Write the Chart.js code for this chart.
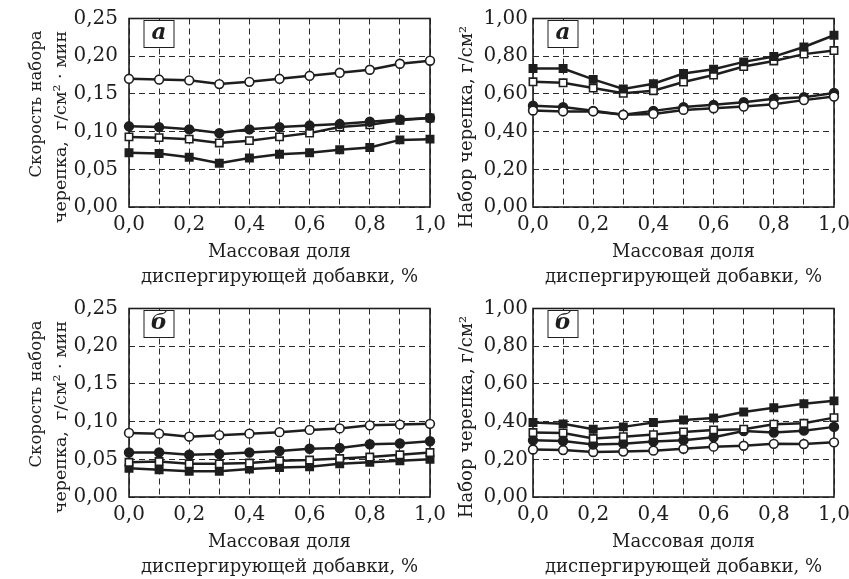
<!DOCTYPE html>
<html>
<head>
<meta charset="utf-8">
<script src="https://cdn.jsdelivr.net/npm/chart.js@4.4.1/dist/chart.umd.min.js"></script>
<style>
  body { margin: 0; background: #fff; width: 849px; height: 579px; position: relative; overflow: hidden; }
  canvas { position: absolute; }
</style>
</head>
<body>
<canvas id="rateA"  width="450" height="289" style="left:0;top:0"></canvas>
<canvas id="massA"  width="409" height="289" style="left:440px;top:0"></canvas>
<canvas id="rateB"  width="450" height="289" style="left:0;top:290px"></canvas>
<canvas id="massB"  width="409" height="289" style="left:440px;top:290px"></canvas>
<script>
// ── Data ──────────────────────────────────────────────────────────────────────
const xShare = [0, 0.1, 0.2, 0.3, 0.4, 0.5, 0.6, 0.7, 0.8, 0.9, 1.0];

// а — скорость набора черепка, г/см²·мин
const rateA_openCircle   = [0.170, 0.169, 0.168, 0.163, 0.166, 0.170, 0.174, 0.178, 0.182, 0.190, 0.194];
const rateA_filledCircle = [0.107, 0.106, 0.103, 0.098, 0.103, 0.106, 0.108, 0.110, 0.113, 0.116, 0.118];
const rateA_openSquare   = [0.093, 0.092, 0.090, 0.085, 0.088, 0.093, 0.098, 0.106, 0.109, 0.115, 0.118];
const rateA_filledSquare = [0.072, 0.071, 0.066, 0.058, 0.065, 0.070, 0.072, 0.076, 0.079, 0.089, 0.090];

// а — набор черепка, г/см²
const massA_filledSquare = [0.735, 0.735, 0.677, 0.626, 0.654, 0.708, 0.731, 0.770, 0.798, 0.849, 0.911];
const massA_openSquare   = [0.664, 0.659, 0.631, 0.603, 0.617, 0.663, 0.700, 0.745, 0.775, 0.811, 0.830];
const massA_filledCircle = [0.537, 0.530, 0.510, 0.489, 0.510, 0.530, 0.542, 0.556, 0.574, 0.582, 0.605];
const massA_openCircle   = [0.512, 0.507, 0.507, 0.489, 0.494, 0.515, 0.524, 0.533, 0.545, 0.567, 0.586];

// б — скорость набора черепка
const rateB_openCircle   = [0.085, 0.084, 0.080, 0.082, 0.084, 0.086, 0.089, 0.091, 0.095, 0.096, 0.097];
const rateB_filledCircle = [0.059, 0.059, 0.056, 0.057, 0.059, 0.061, 0.064, 0.065, 0.070, 0.071, 0.074];
const rateB_openSquare   = [0.046, 0.047, 0.044, 0.044, 0.045, 0.048, 0.049, 0.051, 0.053, 0.056, 0.059];
const rateB_filledSquare = [0.038, 0.036, 0.034, 0.034, 0.037, 0.039, 0.040, 0.044, 0.046, 0.048, 0.050];

// б — набор черепка
const massB_filledSquare = [0.395, 0.388, 0.359, 0.372, 0.395, 0.409, 0.419, 0.451, 0.474, 0.495, 0.510];
const massB_openSquare   = [0.342, 0.340, 0.310, 0.320, 0.331, 0.345, 0.356, 0.360, 0.386, 0.391, 0.421];
const massB_filledCircle = [0.301, 0.297, 0.278, 0.283, 0.294, 0.301, 0.317, 0.350, 0.342, 0.352, 0.372];
const massB_openCircle   = [0.252, 0.249, 0.239, 0.241, 0.246, 0.256, 0.267, 0.272, 0.282, 0.281, 0.290];

const xTitle     = ['Массовая доля', 'диспергирующей добавки, %'];
const rateTitle  = ['Скорость набора', 'черепка,  г/см² · мин'];
const massTitle  = ['Набор черепка, г/см²'];

// ── Styling ───────────────────────────────────────────────────────────────────
const INK  = '#1e1e1e';
const FONT = '"DejaVu Serif", serif';

function series(values, marker) {
  const filled = marker.startsWith('filled');
  const square = marker.endsWith('Square');
  return {
    data: xShare.map((x, i) => ({ x, y: values[i] })),
    borderColor: INK,
    borderWidth: 2.5,
    tension: 0,
    clip: false,
    pointStyle: square ? 'rect' : 'circle',
    pointRadius: square ? 5.2 : 4.4,
    pointBackgroundColor: filled ? INK : '#fff',
    pointBorderColor: INK,
    pointBorderWidth: 1.6
  };
}

// frame, panel letter and rotated axis title
const panelDecor = {
  id: 'panelDecor',
  beforeDatasetsDraw(chart, args, opts) {
    const { ctx, chartArea: a } = chart;
    ctx.save();
    ctx.strokeStyle = INK;
    ctx.lineWidth = 1.6;
    ctx.strokeRect(a.left, a.top, a.right - a.left, a.bottom - a.top);

    const bx = a.left + 15, by = a.top + 2;
    ctx.fillStyle = '#fff';
    ctx.fillRect(bx, by, 30, 27);
    ctx.lineWidth = 1;
    ctx.strokeRect(bx, by, 30, 27);
    ctx.fillStyle = INK;
    ctx.textAlign = 'center';
    ctx.textBaseline = 'middle';
    ctx.font = 'italic bold 23px "DejaVu Serif", serif';
    ctx.fillText(opts.letter, bx + 15, by + 13);

    opts.yTitle.forEach(l => {
      ctx.save();
      ctx.font = `${l.size}px ${FONT}`;
      ctx.translate(l.x, l.y);
      ctx.rotate(-Math.PI / 2);
      ctx.fillText(l.text, 0, 0);
      ctx.restore();
    });
    ctx.restore();
  }
};

function makePanel(id, datasets, p) {
  new Chart(document.getElementById(id), {
    type: 'line',
    data: { datasets },
    plugins: [panelDecor],
    options: {
      responsive: false,
      devicePixelRatio: 1,
      animation: false,
      events: [],
      layout: { padding: { top: 18.5, right: p.padRight, bottom: 0, left: 0 } },
      scales: {
        x: {
          type: 'linear',
          min: 0, max: 1,
          grid: { color: '#2a2a2a', lineWidth: 1, drawTicks: false },
          border: { display: false, dash: [6, 4] },
          ticks: {
            stepSize: 0.1, autoSkip: false, maxRotation: 0, padding: 6,
            color: INK, font: { family: FONT, size: 20 },
            callback: v => (Math.round(v * 10) % 2 === 0 ? v.toFixed(1).replace('.', ',') : '')
          },
          title: {
            display: true, text: xTitle, color: INK,
            font: { family: FONT, size: 18, lineHeight: 1.35 },
            padding: { top: 0, bottom: 0 }
          },
          afterFit: s => { s.height = 82; s.paddingLeft = 0; s.paddingRight = 0; }
        },
        y: {
          min: 0, max: p.yMax,
          grid: { color: '#2a2a2a', lineWidth: 1, drawTicks: false },
          border: { display: false, dash: [6, 4] },
          ticks: {
            stepSize: p.yStep, padding: p.tickPad,
            color: INK, font: { family: FONT, size: 20 },
            callback: v => v.toFixed(2).replace('.', ',')
          },
          afterFit: s => { s.width = p.yWidth; s.paddingTop = 0; s.paddingBottom = 0; }
        }
      },
      plugins: {
        legend: { display: false },
        tooltip: { enabled: false },
        panelDecor: { letter: p.letter, yTitle: p.yTitle }
      }
    }
  });
}

const ratePanel = (letter) => ({
  letter, yMax: 0.25, yStep: 0.05, yWidth: 129, tickPad: 11, padRight: 20,
  yTitle: [
    { text: rateTitle[0], x: 37, y: 104, size: 16.5 },
    { text: rateTitle[1], x: 61, y: 127, size: 17.5 }
  ]
});
const massPanel = (letter) => ({
  letter, yMax: 1.0, yStep: 0.2, yWidth: 93, tickPad: 5, padRight: 15,
  yTitle: [{ text: massTitle[0], x: 27, y: 127, size: 18 }]
});

makePanel('rateA', [
  series(rateA_openCircle, 'openCircle'),
  series(rateA_filledCircle, 'filledCircle'),
  series(rateA_openSquare, 'openSquare'),
  series(rateA_filledSquare, 'filledSquare')
], ratePanel('а'));

makePanel('massA', [
  series(massA_filledSquare, 'filledSquare'),
  series(massA_openSquare, 'openSquare'),
  series(massA_openCircle, 'openCircle'),
  series(massA_filledCircle, 'filledCircle')
], massPanel('а'));

makePanel('rateB', [
  series(rateB_openCircle, 'openCircle'),
  series(rateB_filledCircle, 'filledCircle'),
  series(rateB_openSquare, 'openSquare'),
  series(rateB_filledSquare, 'filledSquare')
], ratePanel('б'));

makePanel('massB', [
  series(massB_filledSquare, 'filledSquare'),
  series(massB_openSquare, 'openSquare'),
  series(massB_filledCircle, 'filledCircle'),
  series(massB_openCircle, 'openCircle')
], massPanel('б'));
</script>
</body>
</html>
